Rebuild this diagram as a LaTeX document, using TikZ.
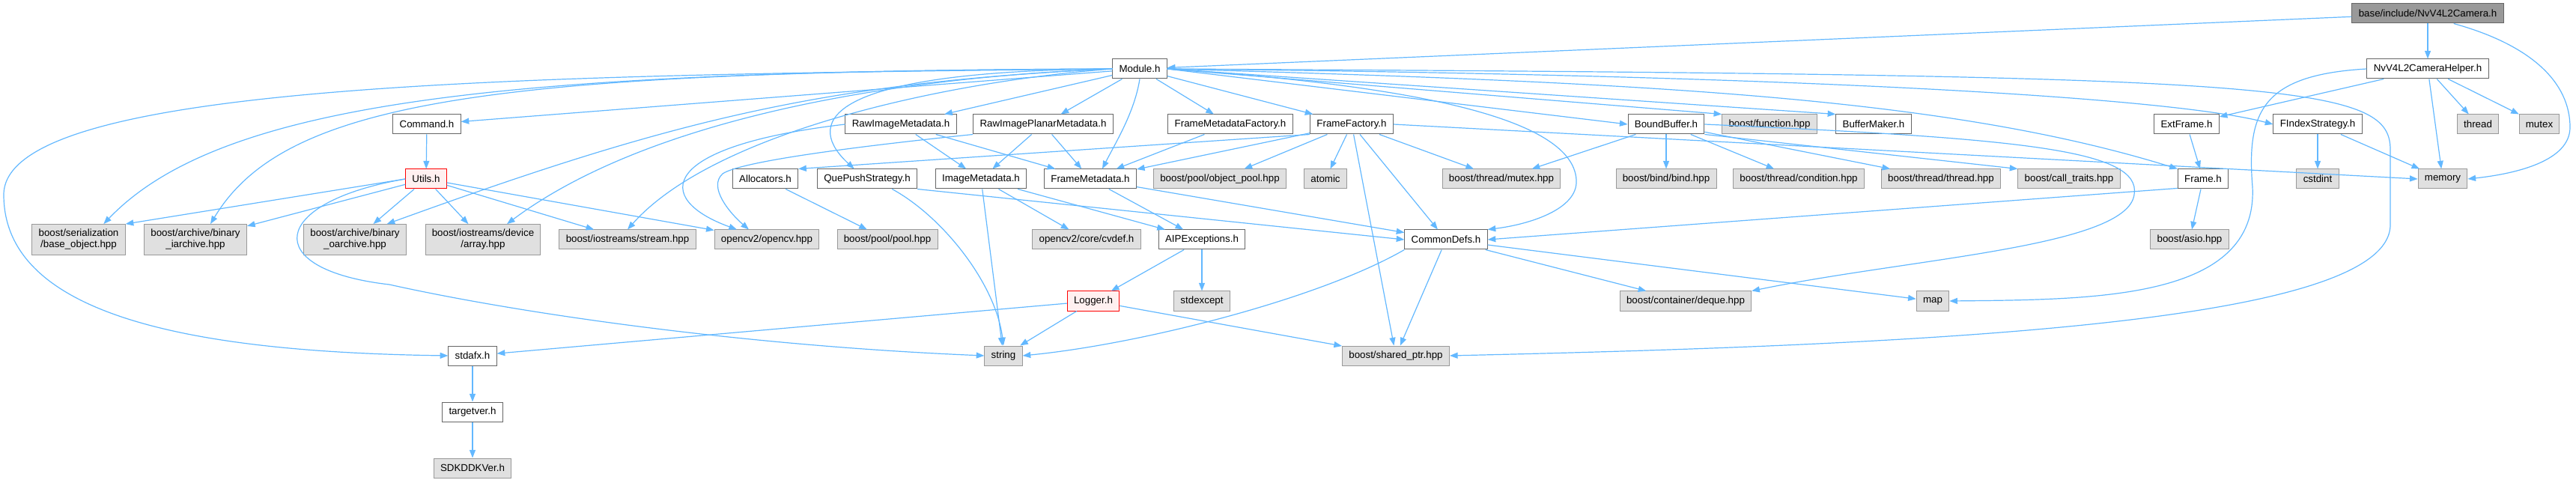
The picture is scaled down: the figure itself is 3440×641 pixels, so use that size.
\documentclass[tikz,border=0pt]{standalone}
\usepackage{fontspec}
\setmainfont{Liberation Sans}
\usepackage{tikz}
\usetikzlibrary{arrows.meta, positioning}
\definecolor{edgeblue}{HTML}{63B8FF}
\definecolor{docline}{HTML}{666666}
\definecolor{extline}{HTML}{999999}
\definecolor{extfill}{HTML}{E0E0E0}
\definecolor{truncfill}{HTML}{FFF0F0}

\begin{document}
\begin{tikzpicture}[
  x=0.75pt, y=-0.75pt,
  node distance=36pt,
  box/.style={draw, line width=0.75pt, minimum height=19.5pt, inner xsep=6.6pt,
              inner ysep=5pt, align=center, font=\fontsize{10}{11.25}\selectfont},
  doc/.style={box, draw=docline, fill=white},
  ext/.style={box, draw=extline, fill=extfill},
  trunc/.style={box, draw=red, fill=truncfill},
  rootbox/.style={box, draw=docline, fill=extline},
  dep/.style={draw=edgeblue, line width=0.9pt, -{Triangle[length=8pt, width=6pt]}}
]
  \useasboundingbox (0,0) rectangle (3440,641);

  \node[rootbox] (cam)    at (3242,18) {base/include/NvV4L2Camera.h};
  \node[doc]     (module) at (1522,92) {Module.h};
  \node[doc]     (helper) at (3242,92) {NvV4L2CameraHelper.h};

  \node[doc] (command)   at (570,166)  {Command.h};
  \node[doc] (rawimg)    at (1203,166) {RawImageMetadata.h};
  \node[doc] (rawplanar) at (1393,166) {RawImagePlanarMetadata.h};
  \node[doc] (fmfactory) at (1643,166) {FrameMetadataFactory.h};
  \node[doc] (ffactory)  at (1805,166) {FrameFactory.h};
  \node[doc] (boundbuf)  at (2225,166) {BoundBuffer.h};
  \node[ext] (function)  at (2363,166) {boost/function.hpp};
  \node[doc] (bufmaker)  at (2502,166) {BufferMaker.h};
  \node[doc] (extframe)  at (2920,166) {ExtFrame.h};
  \node[doc] (findex)    at (3095,166) {FIndexStrategy.h};
  \node[ext] (thread)    at (3309,166) {thread};
  \node[ext] (mutex)     at (3391,166) {mutex};

  \node[trunc] (utils)   at (569,239)  {Utils.h};
  \node[doc] (alloc)     at (1022,239) {Allocators.h};
  \node[doc] (quepush)   at (1158,239) {QuePushStrategy.h};
  \node[doc] (imgmeta)   at (1310,239) {ImageMetadata.h};
  \node[doc] (fmeta)     at (1456,239) {FrameMetadata.h};
  \node[ext] (objpool)   at (1629,239) {boost/pool/object\_pool.hpp};
  \node[ext] (atomic)    at (1770,239) {atomic};
  \node[ext] (bmutex)    at (2005,239) {boost/thread/mutex.hpp};
  \node[ext] (bind)      at (2225,239) {boost/bind/bind.hpp};
  \node[ext] (cond)      at (2402,239) {boost/thread/condition.hpp};
  \node[ext] (bthread)   at (2592,239) {boost/thread/thread.hpp};
  \node[ext] (calltr)    at (2763,239) {boost/call\_traits.hpp};
  \node[doc] (frame)     at (2942,239) {Frame.h};
  \node[ext] (cstdint)   at (3095,239) {cstdint};
  \node[ext] (memory)    at (3262,239) {memory};

  \node[ext] (baseobj)   at (105,320)  {boost/serialization\\/base\_object.hpp};
  \node[ext] (iarch)     at (261,320)  {boost/archive/binary\\\_iarchive.hpp};
  \node[ext] (oarch)     at (474,320)  {boost/archive/binary\\\_oarchive.hpp};
  \node[ext] (devarray)  at (645,320)  {boost/iostreams/device\\/array.hpp};
  \node[ext] (stream)    at (838,320)  {boost/iostreams/stream.hpp};
  \node[ext] (opencv)    at (1024,320) {opencv2/opencv.hpp};
  \node[ext] (pool)      at (1185,320) {boost/pool/pool.hpp};
  \node[ext] (cvdef)     at (1451,320) {opencv2/core/cvdef.h};
  \node[doc] (aipexc)    at (1605,320) {AIPExceptions.h};
  \node[doc] (common)    at (1931,320) {CommonDefs.h};
  \node[ext] (asio)      at (2924,320) {boost/asio.hpp};

  \node[trunc] (logger)  at (1460,402) {Logger.h};
  \node[ext] (stdexc)    at (1605,402) {stdexcept};
  \node[ext] (deque)     at (2251,402) {boost/container/deque.hpp};
  \node[ext] (map)       at (2581,402) {map};

  \node[ext] (string)    at (1340,475) {string};
  \node[ext] (sharedptr) at (1864,475) {boost/shared\_ptr.hpp};
  \node[doc] (stdafx)    at (631,475)  {stdafx.h};
  \node[doc, below=of stdafx]    (targetver) {targetver.h};
  \node[ext, below=of targetver] (sdkver)    {SDKDDKVer.h};

  \draw[dep] (cam) -- (module);
  \draw[dep] (cam) -- (helper);
  \draw[dep] ([xshift=26pt]cam.south) .. controls (3380,60) and (3432,110) .. (3432,170)
             .. controls (3432,215) and (3360,232) .. (memory.east);

  \draw[dep] (module) -- (command);
  \draw[dep] (module.west) .. controls (700,100) and (5,110) .. (5,260)
             .. controls (5,420) and (250,470) .. (stdafx.west);
  \draw[dep] (module.west) .. controls (700,95) and (300,130) .. ([xshift=25pt]baseobj.north);
  \draw[dep] (module.west) .. controls (650,95) and (380,135) .. ([xshift=15pt]iarch.north);
  \draw[dep] (module.west) .. controls (1100,110) and (900,160) .. ([xshift=32pt]oarch.north);
  \draw[dep] (module.west) .. controls (1150,105) and (850,170) .. ([xshift=24pt]devarray.north);
  \draw[dep] (module.west) .. controls (1250,110) and (950,180) .. (stream.north);
  \draw[dep] (module.west) .. controls (1080,95) and (1080,170) .. ([xshift=-13pt]quepush.north);
  \draw[dep] (module) -- (rawimg);
  \draw[dep] (module) -- (rawplanar);
  \draw[dep] (module) -- (fmfactory);
  \draw[dep] (module.south) .. controls (1515,150) and (1490,190) .. ([xshift=12pt]fmeta.north);
  \draw[dep] (module) -- (ffactory);
  \draw[dep] (module.east) .. controls (1900,115) and (2100,160) .. (2105,240)
             .. controls (2108,280) and (2040,300) .. (common.north east);
  \draw[dep] (module.east) -- (boundbuf.west);
  \draw[dep] (module.east) -- (function.north west);
  \draw[dep] (module.east) -- (bufmaker.north west);
  \draw[dep] (module.east) .. controls (2400,100) and (2900,130) .. (findex.west);
  \draw[dep] (module.east) .. controls (2200,110) and (2600,130) .. (frame.north west);
  \draw[dep] (module.east) .. controls (3050,100) and (3192,110) .. (3192,200) -- (3192,300)
             .. controls (3192,430) and (2600,460) .. (sharedptr.east);

  \draw[dep] (helper) -- (extframe);
  \draw[dep] (helper) -- (memory);
  \draw[dep] (helper) -- (thread);
  \draw[dep] (helper) -- (mutex);
  \draw[dep] (helper.west) .. controls (3020,100) and (3000,150) .. (3008,250)
             .. controls (3015,400) and (2800,400) .. (map.east);

  \draw[dep] (command) -- (utils);
  \draw[dep] (utils.west) -- (baseobj.north east);
  \draw[dep] (utils) -- (iarch);
  \draw[dep] (utils) -- (oarch);
  \draw[dep] (utils) -- (devarray);
  \draw[dep] (utils) -- (stream);
  \draw[dep] (utils) -- (opencv);
  \draw[dep] (utils.west) .. controls (360,270) and (345,360) .. (520,380)
             .. controls (700,420) and (1000,462) .. (string.west);

  \draw[dep] (rawimg) -- (imgmeta);
  \draw[dep] (rawimg) -- (fmeta);
  \draw[dep] (rawimg.west) .. controls (880,195) and (870,265) .. ([xshift=-30pt]opencv.north);
  \draw[dep] (rawplanar) -- (imgmeta);
  \draw[dep] (rawplanar) -- (fmeta);
  \draw[dep] (rawplanar.south west) .. controls (1150,195) and (990,215) .. (965,232)
             .. controls (945,250) and (975,285) .. ([xshift=-18pt]opencv.north);
  \draw[dep] (fmfactory) -- (fmeta);

  \draw[dep] (ffactory.south west) -- (alloc.north east);
  \draw[dep] (ffactory) -- (fmeta);
  \draw[dep] (ffactory) -- (objpool);
  \draw[dep] (ffactory) -- (atomic);
  \draw[dep] (ffactory) -- (bmutex);
  \draw[dep] (ffactory) -- (common);
  \draw[dep] (ffactory) -- (sharedptr);
  \draw[dep] (ffactory.east) -- (memory.west);

  \draw[dep] (boundbuf) -- (bmutex);
  \draw[dep] (boundbuf) -- (bind);
  \draw[dep] (boundbuf) -- (cond);
  \draw[dep] (boundbuf) -- (bthread);
  \draw[dep] (boundbuf.south east) -- (calltr.north west);
  \draw[dep] (boundbuf.east) .. controls (2700,185) and (2860,200) .. (2850,260)
             .. controls (2840,330) and (2550,345) .. (deque.north east);

  \draw[dep] (extframe) -- (frame);
  \draw[dep] (frame) -- (asio);
  \draw[dep] (frame.200) -- (common.east);
  \draw[dep] (findex) -- (cstdint);
  \draw[dep] (findex) -- (memory);

  \draw[dep] (alloc) -- (pool);
  \draw[dep] (quepush.south east) -- (common.west);
  \draw[dep] ([xshift=25pt]quepush.south) .. controls (1260,290) and (1330,380) .. (string.north);
  \draw[dep] (imgmeta) -- (string);
  \draw[dep] (imgmeta) -- (cvdef);
  \draw[dep] (imgmeta) -- (aipexc);
  \draw[dep] (fmeta) -- (aipexc);
  \draw[dep] (fmeta) -- (common);

  \draw[dep] (aipexc) -- (logger);
  \draw[dep] (aipexc) -- (stdexc);
  \draw[dep] (logger) -- (string);
  \draw[dep] (logger) -- (stdafx);
  \draw[dep] (logger) -- (sharedptr);

  \draw[dep] (common.south west) .. controls (1760,400) and (1520,460) .. (string.east);
  \draw[dep] (common) -- (sharedptr);
  \draw[dep] (common) -- (deque);
  \draw[dep] (common) -- (map);

  \draw[dep] (stdafx) -- (targetver);
  \draw[dep] (targetver) -- (sdkver);
\end{tikzpicture}
\end{document}
